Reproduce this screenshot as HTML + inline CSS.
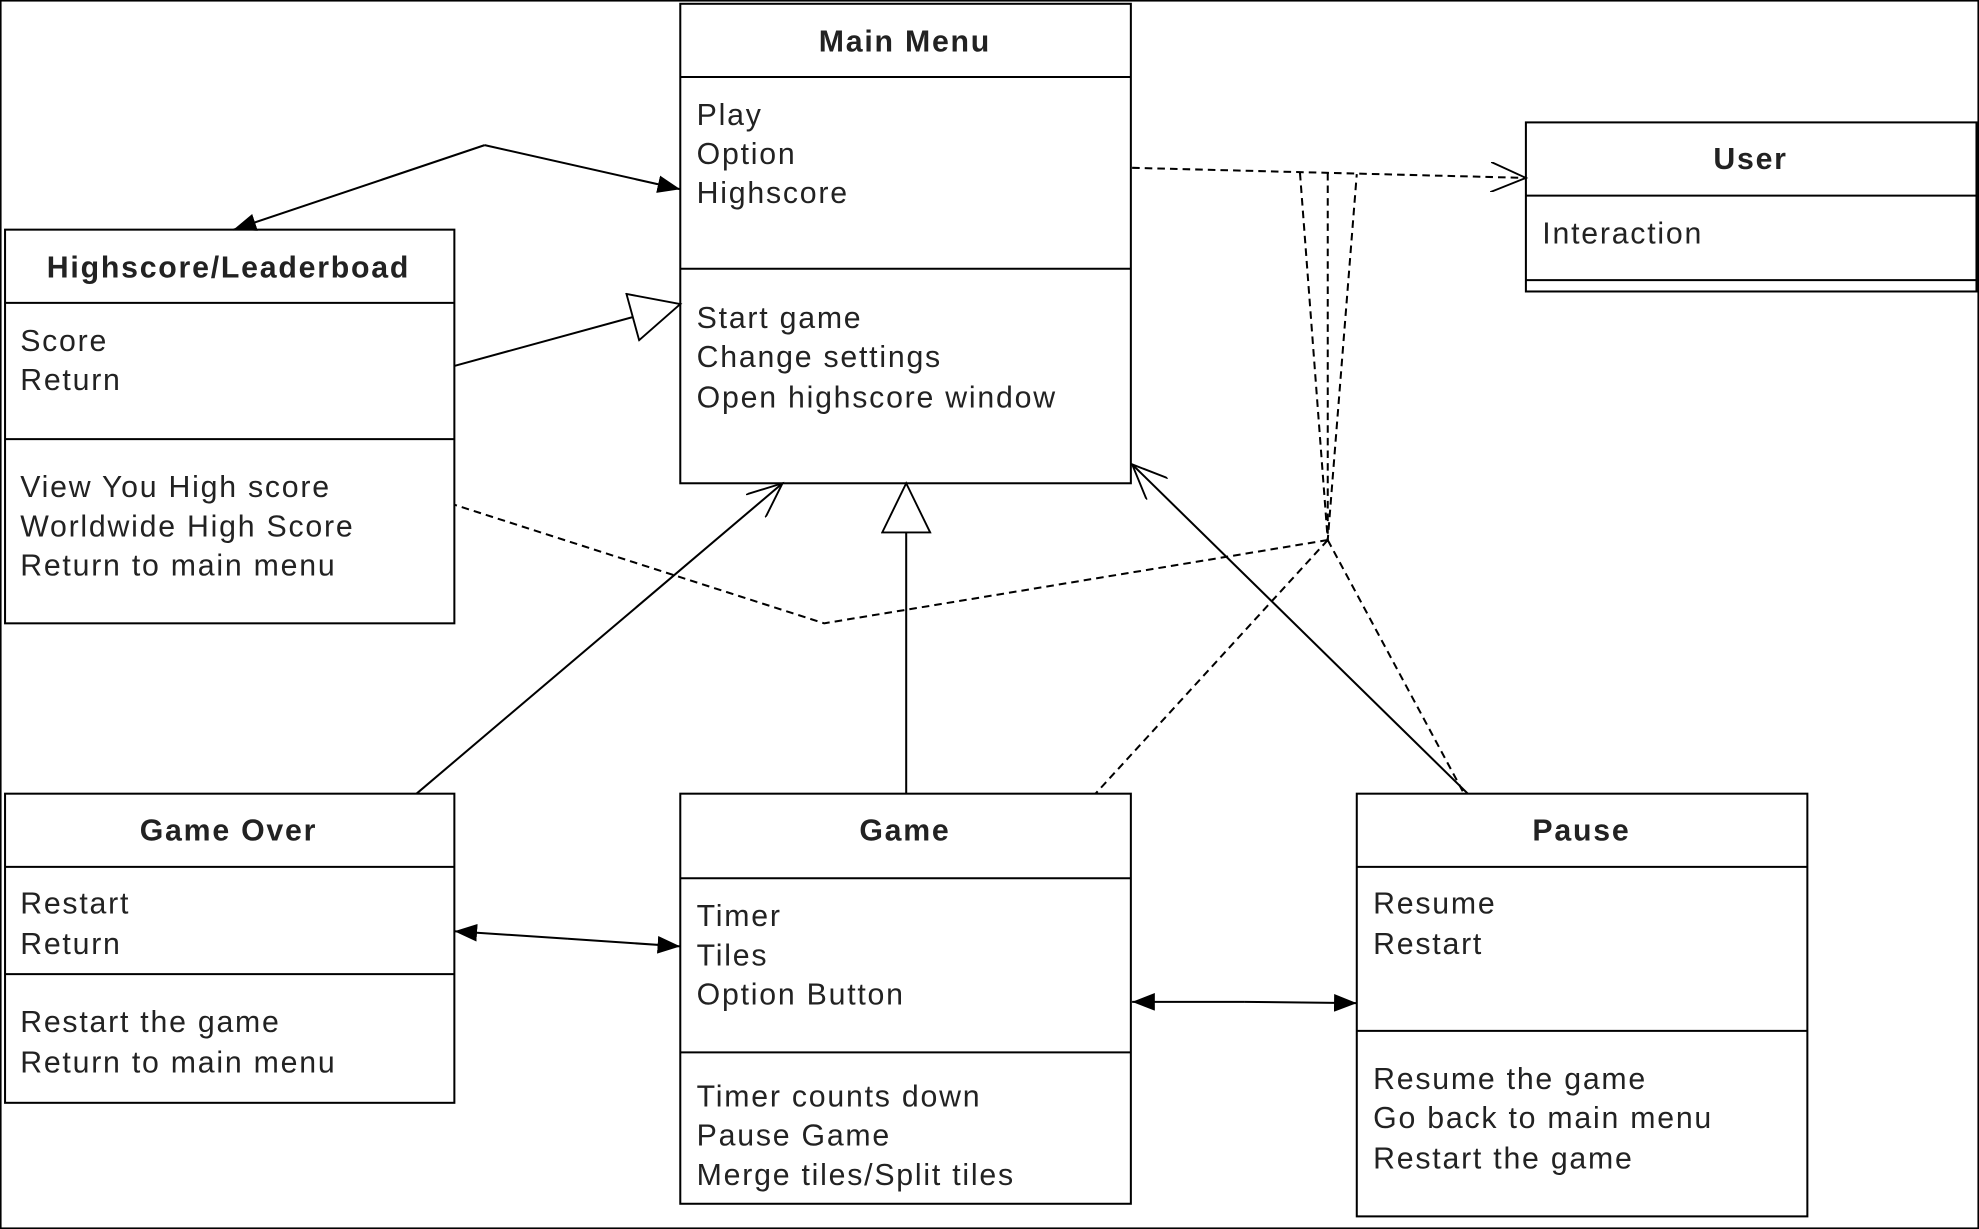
<!DOCTYPE html>
<html><head><meta charset="utf-8"><style>
html,body{margin:0;padding:0;background:#fff;}
svg{display:block;}
text{font-family:"Liberation Sans",Arial,sans-serif;font-size:24px;letter-spacing:1.4px;fill:#222;}
.t{font-weight:bold;text-anchor:middle;}
</style></head><body>
<svg width="1979" height="1229" viewBox="0 0 1568 974" preserveAspectRatio="none" xmlns="http://www.w3.org/2000/svg">
<defs>
<marker id="fa" markerWidth="20" markerHeight="14" refX="18" refY="7" orient="auto" markerUnits="userSpaceOnUse"><path d="M0,0 L18,7 L0,14 z" fill="#000"/></marker>
<marker id="oa" markerWidth="30" markerHeight="24" refX="28" refY="12" orient="auto" markerUnits="userSpaceOnUse"><path d="M0,0 L28,12 L0,24" fill="none" stroke="#000" stroke-width="1.5"/></marker>
<marker id="ht" markerWidth="42" markerHeight="40" refX="40" refY="20" orient="auto" markerUnits="userSpaceOnUse"><path d="M1,1 L40,20 L1,39 z" fill="#fff" stroke="#000" stroke-width="1.5"/></marker>
</defs>
<rect x="0.5" y="0.5" width="1567" height="973" fill="#fff" stroke="#000" stroke-width="1.5"/>
<g fill="#fff" stroke="#000" stroke-width="1.6">
<rect x="539" y="3" width="357" height="380"/><line x1="539" y1="61" x2="896" y2="61"/><line x1="539" y1="213" x2="896" y2="213"/>
<rect x="1209" y="97" width="357" height="134"/><line x1="1209" y1="155" x2="1566" y2="155"/><line x1="1209" y1="222" x2="1566" y2="222"/>
<rect x="4" y="182" width="356" height="312"/><line x1="4" y1="240" x2="360" y2="240"/><line x1="4" y1="348" x2="360" y2="348"/>
<rect x="4" y="629" width="356" height="245"/><line x1="4" y1="687" x2="360" y2="687"/><line x1="4" y1="772" x2="360" y2="772"/>
<rect x="539" y="629" width="357" height="325"/><line x1="539" y1="696" x2="896" y2="696"/><line x1="539" y1="834" x2="896" y2="834"/>
<rect x="1075" y="629" width="357" height="335"/><line x1="1075" y1="687" x2="1432" y2="687"/><line x1="1075" y1="817" x2="1432" y2="817"/>
</g>
<g fill="none" stroke="#000" stroke-width="1.6">
<polyline points="384,115 185,182" marker-end="url(#fa)"/>
<polyline points="384,115 539,150" marker-end="url(#fa)"/>
<line x1="360" y1="290" x2="539" y2="241" marker-end="url(#ht)"/>
<line x1="330" y1="629" x2="620" y2="383" marker-end="url(#oa)"/>
<line x1="718" y1="629" x2="718" y2="383" marker-end="url(#ht)"/>
<line x1="1163" y1="629" x2="897" y2="368" marker-end="url(#oa)"/>
<line x1="450" y1="744" x2="539" y2="750" marker-end="url(#fa)"/>
<line x1="450" y1="744" x2="360" y2="738" marker-end="url(#fa)"/>
<line x1="986" y1="794" x2="1075" y2="795" marker-end="url(#fa)"/>
<line x1="986" y1="794" x2="897" y2="794" marker-end="url(#fa)"/>
</g>
<g fill="none" stroke="#000" stroke-width="1.6" stroke-dasharray="6,4">
<line x1="897" y1="133" x2="1209" y2="141" marker-end="url(#oa)"/>
<polyline points="1030,137 1052,428 1075,138"/>
<line x1="1052" y1="137" x2="1052" y2="428"/>
<line x1="1052" y1="428" x2="868" y2="629"/>
<line x1="1052" y1="428" x2="1160" y2="629"/>
<polyline points="1052,428 653,494 360,400"/>
</g>
<text class="t" x="717" y="41">Main Menu</text>
<text x="552" y="99">Play</text><text x="552" y="130">Option</text><text x="552" y="161">Highscore</text>
<text x="552" y="260">Start game</text><text x="552" y="291">Change settings</text><text x="552" y="323">Open highscore window</text>
<text class="t" x="1387" y="134">User</text>
<text x="1222" y="193">Interaction</text>
<text class="t" x="181" y="220">Highscore/Leaderboad</text>
<text x="16" y="278">Score</text><text x="16" y="309">Return</text>
<text x="16" y="394">View You High score</text><text x="16" y="425">Worldwide High Score</text><text x="16" y="456">Return to main menu</text>
<text class="t" x="181" y="666">Game Over</text>
<text x="16" y="724">Restart</text><text x="16" y="756">Return</text>
<text x="16" y="818">Restart the game</text><text x="16" y="850">Return to main menu</text>
<text class="t" x="717" y="666">Game</text>
<text x="552" y="734">Timer</text><text x="552" y="765">Tiles</text><text x="552" y="796">Option Button</text>
<text x="552" y="877">Timer counts down</text><text x="552" y="908">Pause Game</text><text x="552" y="939">Merge tiles/Split tiles</text>
<text class="t" x="1253" y="666">Pause</text>
<text x="1088" y="724">Resume</text><text x="1088" y="756">Restart</text>
<text x="1088" y="863">Resume the game</text><text x="1088" y="894">Go back to main menu</text><text x="1088" y="926">Restart the game</text>
</svg>
</body></html>
